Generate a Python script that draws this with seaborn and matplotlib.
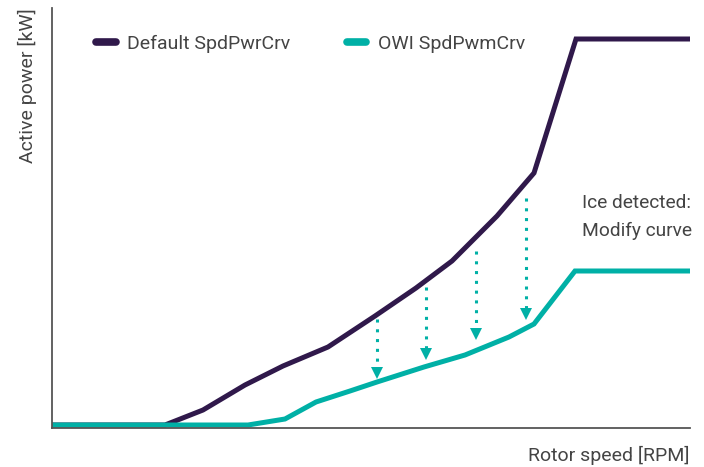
import matplotlib
matplotlib.use("Agg")
import matplotlib.pyplot as plt
import seaborn as sns
import pandas as pd
from matplotlib.lines import Line2D

# curve data (rotor speed vs active power, arbitrary units)
default_speed = [52, 165, 203, 245, 283, 328, 375, 416, 452, 497, 534, 576, 690]
default_power = [3, 3, 18, 43, 62, 81, 112, 140, 167, 212, 255, 389, 389]
owi_speed = [52, 248, 285, 316, 350, 377, 424, 465, 509, 534, 575, 690]
owi_power = [3, 3, 9, 26, 37, 46, 61, 73, 91, 104, 157, 157]

# ice-detection arrows
arrow_x = [377, 426, 476, 526]
arrow_top = [109, 141, 177, 230]
arrow_tip = [51, 70, 90, 110]

purple = "#30194b"
teal = "#00b0a6"
grey = "#444444"

df = pd.concat([
    pd.DataFrame({"speed": default_speed, "power": default_power, "curve": "Default SpdPwrCrv"}),
    pd.DataFrame({"speed": owi_speed, "power": owi_power, "curve": "OWI SpdPwmCrv"}),
])

sns.set_style("white")
plt.rcParams["font.family"] = ["Roboto", "DejaVu Sans"]

fig = plt.figure(figsize=(7.04, 4.67), dpi=100)
ax = fig.add_axes([52 / 704, 39 / 467, 638 / 704, 420 / 467])

sns.lineplot(data=df, x="speed", y="power", hue="curve", sort=False,
             palette={"Default SpdPwrCrv": purple, "OWI SpdPwmCrv": teal},
             linewidth=3.6, ax=ax, legend=False)
for ln in ax.lines:
    ln.set_solid_capstyle("butt")
    ln.set_solid_joinstyle("miter")

for x, top, tip in zip(arrow_x, arrow_top, arrow_tip):
    ax.plot([x, x], [top, tip + 9], color=teal, linewidth=2.2,
            linestyle=(0, (1, 2.2)))
    ax.plot([x], [tip + 4], marker="v", markersize=9, color=teal,
            markeredgewidth=0)

ax.set_xlim(52, 690)
ax.set_ylim(0, 420)
ax.set_xticks([])
ax.set_yticks([])
ax.set_xlabel("")
ax.set_ylabel("")
sns.despine(ax=ax)
for s in ["left", "bottom"]:
    ax.spines[s].set_color("#555555")
    ax.spines[s].set_linewidth(1.3)

handles = [Line2D([], [], color=purple, linewidth=5.5, solid_capstyle="round"),
           Line2D([], [], color=teal, linewidth=5.5, solid_capstyle="round")]
ax.legend(handles, ["Default SpdPwrCrv", "OWI SpdPwmCrv"], ncol=2,
          loc="center left", bbox_to_anchor=(0.054, 0.915), frameon=False,
          fontsize=14, handlelength=1.0, handletextpad=0.6,
          columnspacing=2.9, borderpad=0, labelcolor=grey)

ax.text(582, 225, "Ice detected:", fontsize=13.8, color=grey, va="center")
ax.text(582, 197, "Modify curve", fontsize=13.8, color=grey, va="center")

fig.text(689 / 704, 1 - 455 / 467, "Rotor speed [RPM]", fontsize=14,
         color=grey, ha="right", va="center")
fig.text(27 / 704, 1 - 8 / 467, "Active power [kW]", fontsize=14,
         color=grey, ha="center", va="top", rotation=90)

fig.savefig("out.png", dpi=100)
